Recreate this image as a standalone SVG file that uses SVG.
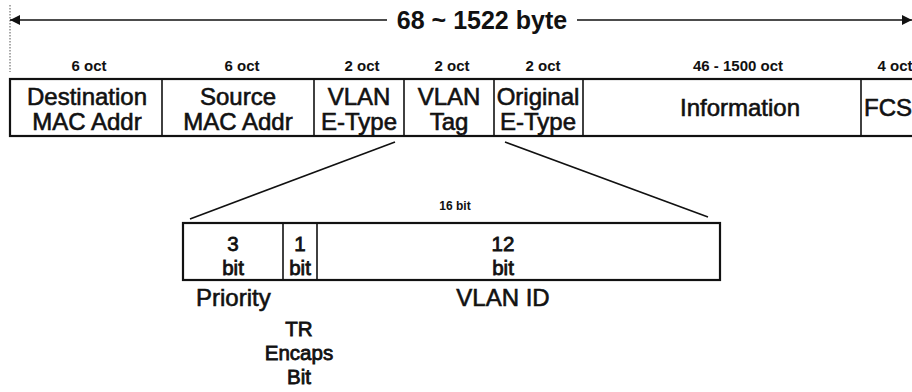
<svg xmlns="http://www.w3.org/2000/svg" width="912" height="392" viewBox="0 0 912 392">
<defs>
<style>
.ln{stroke:#111;stroke-width:1.6;fill:none}
.bx{stroke:#111;stroke-width:2.2;fill:#fff}
.big{font-family:"Liberation Sans",Arial,sans-serif;font-size:24px;fill:#111;stroke:#111;stroke-width:0.6;text-anchor:middle}
.mid{font-size:20.5px;stroke-width:0.8}
.sm{font-family:"Liberation Sans",Arial,sans-serif;font-weight:bold;font-size:15px;fill:#111;text-anchor:middle}
.ttl{font-family:"Liberation Sans",Arial,sans-serif;font-weight:bold;font-size:25px;fill:#111;text-anchor:middle}
</style>
<marker id="ah" viewBox="0 0 10 10" refX="10" refY="5" markerWidth="12" markerHeight="10" markerUnits="userSpaceOnUse" orient="auto-start-reverse">
<path d="M0,0 L10,5 L0,10 z" fill="#111"/>
</marker>
</defs>

<g id="length-arrow">
<line x1="10" y1="5" x2="10" y2="72" stroke="#555" stroke-width="1" stroke-dasharray="1.5,1.5"/>
<line class="ln" x1="10" y1="20" x2="387" y2="20" marker-start="url(#ah)"/>
<line class="ln" x1="577" y1="20" x2="912" y2="20" marker-end="url(#ah)"/>
<text class="ttl" x="482" y="29">68 ~ 1522 byte</text>
</g>

<g id="size-labels">
<text class="sm" x="89" y="71">6 oct</text>
<text class="sm" x="242" y="71">6 oct</text>
<text class="sm" x="362" y="71">2 oct</text>
<text class="sm" x="452" y="71">2 oct</text>
<text class="sm" x="543" y="71">2 oct</text>
<text class="sm" x="738" y="71">46 - 1500 oct</text>
<text class="sm" x="895" y="71">4 oct</text>
</g>

<g id="frame">
<rect class="bx" x="10" y="79" width="920" height="57"/>
<line class="ln" x1="162" y1="79" x2="162" y2="136"/>
<line class="ln" x1="314" y1="79" x2="314" y2="136"/>
<line class="ln" x1="404" y1="79" x2="404" y2="136"/>
<line class="ln" x1="494" y1="79" x2="494" y2="136"/>
<line class="ln" x1="583" y1="79" x2="583" y2="136"/>
<line class="ln" x1="861" y1="79" x2="861" y2="136"/>
</g>

<g id="dest"><text class="big" x="87" y="105">Destination</text><text class="big" x="87" y="130">MAC Addr</text></g>
<g id="src"><text class="big" x="238" y="105">Source</text><text class="big" x="238" y="130">MAC Addr</text></g>
<g id="vlan-etype"><text class="big" x="359" y="105">VLAN</text><text class="big" x="359" y="130">E-Type</text></g>
<g id="vlan-tag"><text class="big" x="449" y="105">VLAN</text><text class="big" x="449" y="130">Tag</text></g>
<g id="orig-etype"><text class="big" x="538" y="105">Original</text><text class="big" x="538" y="130">E-Type</text></g>
<g id="info"><text class="big" x="740" y="116">Information</text></g>
<g id="fcs"><text class="big" x="864" y="116" style="text-anchor:start">FCS</text></g>

<g id="connectors">
<line class="ln" x1="395" y1="142" x2="190" y2="219"/>
<line class="ln" x1="505" y1="142" x2="708" y2="217"/>
</g>

<g id="tag-detail">
<text class="sm" x="455" y="210" style="font-size:12px">16 bit</text>
<rect class="bx" x="183" y="223" width="537" height="57"/>
<line class="ln" x1="283" y1="223" x2="283" y2="280"/>
<line class="ln" x1="317" y1="223" x2="317" y2="280"/>
</g>
<g id="prio-field"><text class="big mid" x="233" y="251">3</text><text class="big mid" x="233" y="275">bit</text></g>
<g id="tr-field"><text class="big mid" x="300" y="251">1</text><text class="big mid" x="300" y="275">bit</text></g>
<g id="vid-field"><text class="big mid" x="503" y="251">12</text><text class="big mid" x="503" y="275">bit</text></g>

<g id="labels">
<text class="big" x="196" y="306" style="text-anchor:start">Priority</text>
<text class="big" x="503" y="306">VLAN ID</text>
<text class="big mid" x="299" y="336">TR</text>
<text class="big mid" x="299" y="360">Encaps</text>
<text class="big mid" x="299" y="384">Bit</text>
</g>
</svg>
